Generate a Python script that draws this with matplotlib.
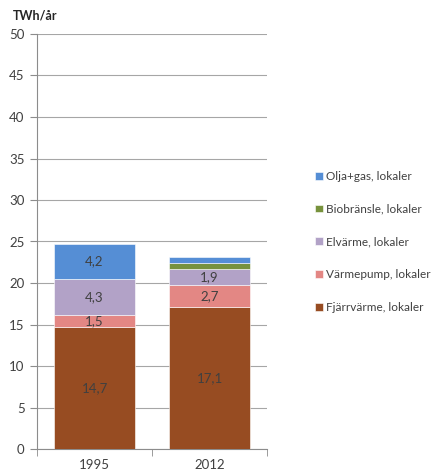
import matplotlib.pyplot as plt
from matplotlib.ticker import FixedLocator

plt.rcParams['font.family'] = ['Lato', 'DejaVu Sans']

years = ['1995', '2012']
series = ['Fjärrvärme, lokaler', 'Värmepump, lokaler', 'Elvärme, lokaler',
          'Biobränsle, lokaler', 'Olja+gas, lokaler']
fjarrvarme = [14.7, 17.1]
varmepump = [1.5, 2.7]
elvarme = [4.3, 1.9]
biobransle = [0.0, 0.65]
olja_gas = [4.2, 0.75]
colors = ['#974C22', '#E38784', '#B2A2C7', '#77923C', '#558ED5']

values = [fjarrvarme, varmepump, elvarme, biobransle, olja_gas]
# which segments carry a data label
show_label = [[True, True], [True, True], [True, True], [False, False], [True, False]]

fig = plt.figure(figsize=(4.4, 4.69), dpi=100)
ax = fig.add_axes([37 / 440, 1 - 449 / 469, 230 / 440, 415 / 469])

x = range(len(years))
bottom = [0.0] * len(years)
handles = []
for vals, col, lab, show in zip(values, colors, series, show_label):
    bars = ax.bar(x, vals, 0.71, bottom=bottom, color=col, label=lab,
                  edgecolor='white', linewidth=0.4, zorder=3)
    handles.append(bars)
    for i, v in enumerate(vals):
        if show[i]:
            ax.text(i, bottom[i] + v / 2, f'{v:.1f}'.replace('.', ','),
                    ha='center', va='center', fontsize=9.5, color='#404040', zorder=4)
    bottom = [b + v for b, v in zip(bottom, vals)]

ax.set_xlim(-0.5, 1.5)
ax.set_ylim(0, 50)
ax.set_yticks(range(0, 51, 5))
ax.set_xticks(list(x))
ax.set_xticklabels(years)
ax.xaxis.set_minor_locator(FixedLocator([-0.5, 0.5, 1.5]))
ax.tick_params(axis='x', which='major', length=0, labelsize=9.5, colors='#404040', pad=7)
ax.tick_params(axis='x', which='minor', length=5, color='#8C8C8C')
ax.tick_params(axis='y', length=5, color='#8C8C8C', labelsize=9.5, labelcolor='#404040', pad=4)
ax.yaxis.grid(True, color='#A6A6A6', linewidth=0.8, zorder=0)
ax.set_axisbelow(True)
for s in ['top', 'right']:
    ax.spines[s].set_visible(False)
for s in ['left', 'bottom']:
    ax.spines[s].set_color('#8C8C8C')
    ax.spines[s].set_linewidth(0.8)

fig.text(13 / 440, 1 - 15 / 469, 'TWh/år', fontsize=9, fontweight='bold',
         color='#262626', va='center', ha='left')

fig.legend(handles[::-1], series[::-1], loc='center left',
           bbox_to_anchor=(315 / 440, 1 - 242 / 469), frameon=False, borderpad=0,
           borderaxespad=0, fontsize=8.5, labelspacing=1.85, handlelength=0.65,
           handleheight=0.65, handletextpad=0.3, labelcolor='#404040')

fig.savefig('out.png', dpi=100)
